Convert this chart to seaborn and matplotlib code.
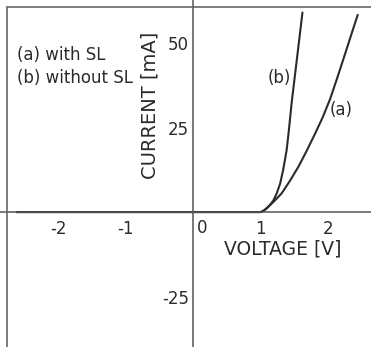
import seaborn as sns
import matplotlib
matplotlib.use("Agg")
import matplotlib.pyplot as plt
import pandas as pd
from matplotlib.lines import Line2D

# I-V curves (voltage in V, current in mA)
volt_a = [-2.62, 1.0, 1.05, 1.11, 1.20, 1.31, 1.43, 1.56, 1.68, 1.81,
          1.92, 2.03, 2.13, 2.24, 2.34, 2.44]
curr_a = [0.0, 0.0, 0.5, 1.5, 3.2, 5.5, 9.1, 13.4, 18.0, 23.3,
          28.0, 33.4, 39.3, 46.0, 52.2, 58.3]
volt_b = [-2.62, 1.0, 1.03, 1.06, 1.10, 1.15, 1.19, 1.24, 1.29, 1.335,
          1.385, 1.42, 1.46, 1.53, 1.62]
curr_b = [0.0, 0.0, 0.2, 0.6, 1.3, 2.4, 3.5, 5.6, 8.5, 12.6,
          18.3, 24.5, 32.4, 44.0, 59.0]

xticks = [-2, -1, 1, 2]
yticks = [-25, 25, 50]

ink = "#2b2b2b"

sns.set_style("white")
plt.rcParams["font.family"] = ["DejaVu Sans"]
plt.rcParams["axes.unicode_minus"] = False

df = pd.concat([
    pd.DataFrame({"voltage": volt_a, "current": curr_a, "curve": "a"}),
    pd.DataFrame({"voltage": volt_b, "current": curr_b, "curve": "b"}),
])

fig = plt.figure(figsize=(3.71, 3.47), dpi=100)
ax = fig.add_axes([0, 0, 1, 1])
ax.patch.set_alpha(0)

sns.lineplot(data=df, x="voltage", y="current", hue="curve", units="curve",
             estimator=None, palette={"a": ink, "b": ink}, linewidth=1.5,
             legend=False, ax=ax)

ax.set_xlim(-2.868, 2.637)
ax.set_ylim(-39.9, 62.7)

# axes through the origin
for side in ["top", "right"]:
    ax.spines[side].set_visible(False)
for side in ["left", "bottom"]:
    ax.spines[side].set_position(("data", 0))
    ax.spines[side].set_color("#555555")
    ax.spines[side].set_linewidth(1.1)

ax.set_xticks(xticks)
ax.set_xticklabels([str(t) for t in xticks])
ax.set_yticks(yticks)
ax.set_yticklabels([str(t) for t in yticks])
ax.tick_params(axis="both", direction="in", length=4, width=1, color="#555555",
               labelsize=12, labelcolor=ink)
ax.tick_params(axis="x", pad=6)
ax.tick_params(axis="y", pad=3)
ax.set_xlabel("")
ax.set_ylabel("")
ax.text(0.05, -4.7, "0", fontsize=12, color=ink, ha="left", va="center")

ax.text(1.334, -10.9, "VOLTAGE [V]", fontsize=13.5, color=ink,
        ha="center", va="center")
ax.text(-0.64, 31.4, "CURRENT [mA]", fontsize=14, color=ink,
        ha="center", va="center", rotation=90)

ax.text(-2.61, 46.4, "(a) with SL", fontsize=12, color=ink, va="center")
ax.text(-2.61, 39.6, "(b) without SL", fontsize=12, color=ink, va="center")
ax.text(1.27, 39.6, "(b)", fontsize=12, color=ink, ha="center", va="center")
ax.text(2.19, 30.2, "(a)", fontsize=12, color=ink, ha="center", va="center")

# outer frame (top and left edges visible)
fx = 7.5 / 371
fy = 1 - 7 / 347
fig.add_artist(Line2D([fx, fx], [0, fy], transform=fig.transFigure,
                      color="#666666", linewidth=1.2))
fig.add_artist(Line2D([fx, 1], [fy, fy], transform=fig.transFigure,
                      color="#666666", linewidth=1.2))

fig.savefig("out.png", dpi=100)
